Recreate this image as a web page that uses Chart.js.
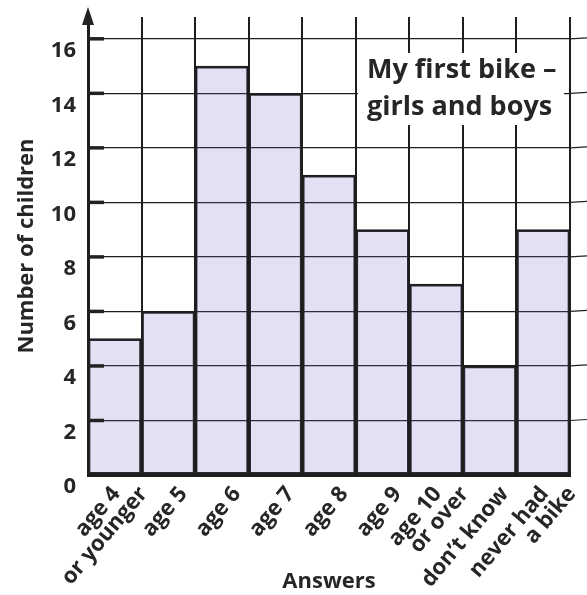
<!DOCTYPE html>
<html>
<head>
<meta charset="utf-8">
<script src="https://cdn.jsdelivr.net/npm/chart.js@4"></script>
<style>
  html, body { margin: 0; padding: 0; background: #fff; }
  #wrap { width: 587px; height: 595px; }
</style>
</head>
<body>
<div id="wrap"><canvas id="bikeChart"></canvas></div>
<script>
// data
var answers = [
    ['age 4', 'or younger'], ['age 5'], ['age 6'], ['age 7'], ['age 8'], ['age 9'],
    ['age 10', 'or over'], ['don\u2019t know'], ['never had', 'a bike']
];
var children = [5, 6, 15, 14, 11, 9, 7, 4, 9];
var yTicks = [0, 2, 4, 6, 8, 10, 12, 14, 16];
var chartTitle = ['My first bike \u2013', 'girls and boys'];

var FONT = '"Open Sans", "Noto Sans", sans-serif';
var INK = '#262626';

// arrow on the y axis, little tick stubs, slanted answer labels, the title box
var extras = {
    id: 'extras',
    beforeDatasetsDraw: function (chart) {
        var c = chart.ctx, a = chart.chartArea, y = chart.scales.y;
        c.save();
        c.strokeStyle = '#222';
        c.lineWidth = 1.2;
        yTicks.forEach(function (v) {
            if (v === 0) return;
            var py = y.getPixelForValue(v);
            c.beginPath();
            c.moveTo(a.right, py);
            c.lineTo(chart.width, py - 1);
            c.stroke();
        });
        c.restore();
    },
    afterDraw: function (chart) {
        var c = chart.ctx, a = chart.chartArea, x = chart.scales.x, y = chart.scales.y;
        c.save();
        // tick stubs
        c.strokeStyle = '#222';
        c.lineWidth = 3.5;
        yTicks.forEach(function (v) {
            if (v === 0) return;
            var py = y.getPixelForValue(v);
            c.beginPath();
            c.moveTo(a.left, py);
            c.lineTo(a.left + 16, py);
            c.stroke();
        });
        // arrow
        c.fillStyle = '#222';
        c.beginPath();
        c.moveTo(a.left, a.top - 10);
        c.lineTo(a.left - 6, a.top + 8);
        c.lineTo(a.left + 6, a.top + 8);
        c.closePath();
        c.fill();

        // answer labels, each line ends on the same height
        c.fillStyle = INK;
        c.font = 'bold 22px ' + FONT;
        c.textAlign = 'right';
        c.textBaseline = 'middle';
        answers.forEach(function (lines, i) {
            var cx = x.getPixelForValue(i);
            lines.forEach(function (txt, j) {
                var lx = cx + 15 + (j - (lines.length - 1) / 2) * 27;
                c.save();
                c.translate(lx, a.bottom + 15);
                c.rotate(-50 * Math.PI / 180);
                c.fillText(txt, 0, 0);
                c.restore();
            });
        });

        // title box
        var bx = a.left + 270, by = a.top + 36;
        c.fillStyle = '#fff';
        c.fillRect(bx, by, 206, 72);
        c.fillStyle = INK;
        c.font = 'bold 27px ' + FONT;
        c.textAlign = 'left';
        c.textBaseline = 'middle';
        c.fillText(chartTitle[0], bx + 9, by + 17);
        c.fillText(chartTitle[1], bx + 9, by + 54);
        c.restore();
    }
};

var ctx = document.getElementById('bikeChart').getContext('2d');
var bikeChart = new Chart(ctx, {
    type: 'bar',
    data: {
        labels: answers,
        datasets: [{
            label: 'Number of children',
            data: children,
            backgroundColor: 'rgba(120, 100, 200, 0.2)',
            borderColor: '#1e1e1e',
            borderWidth: 2,
            borderSkipped: false,
            categoryPercentage: 1.0,
            barPercentage: 1.0
        }]
    },
    options: {
        responsive: true,
        maintainAspectRatio: false,
        animation: false,
        layout: { padding: { top: 17, right: 17, left: 0, bottom: 0 } },
        plugins: {
            legend: { display: false },
            tooltip: { enabled: false }
        },
        scales: {
            x: {
                grid: {
                    color: '#1e1e1e',
                    lineWidth: 2,
                    drawTicks: false,
                    offset: true
                },
                border: { color: '#1e1e1e', width: 3 },
                ticks: { display: false },
                title: {
                    display: true,
                    text: 'Answers',
                    color: INK,
                    font: { family: FONT, size: 22, weight: 'bold' },
                    padding: { top: 0, bottom: 0 }
                },
                afterFit: function (s) { s.height = 120; }
            },
            y: {
                min: 0,
                max: 16.8,
                afterBuildTicks: function (s) {
                    s.ticks = yTicks.map(function (v) { return { value: v }; });
                },
                grid: {
                    color: '#1e1e1e',
                    lineWidth: 1.2,
                    drawTicks: false
                },
                border: { color: '#1e1e1e', width: 3 },
                ticks: {
                    color: INK,
                    font: { family: FONT, size: 22, weight: 'bold' },
                    padding: 12,
                    labelOffset: 12
                },
                title: {
                    display: true,
                    text: 'Number of children',
                    color: INK,
                    font: { family: FONT, size: 22, weight: 'bold' },
                    padding: { top: 14, bottom: 2 }
                },
                afterFit: function (s) {
                    s.width = 88;
                    s.paddingTop = 0;
                    s.paddingBottom = 0;
                }
            }
        }
    },
    plugins: [extras]
});
</script>
</body>
</html>
